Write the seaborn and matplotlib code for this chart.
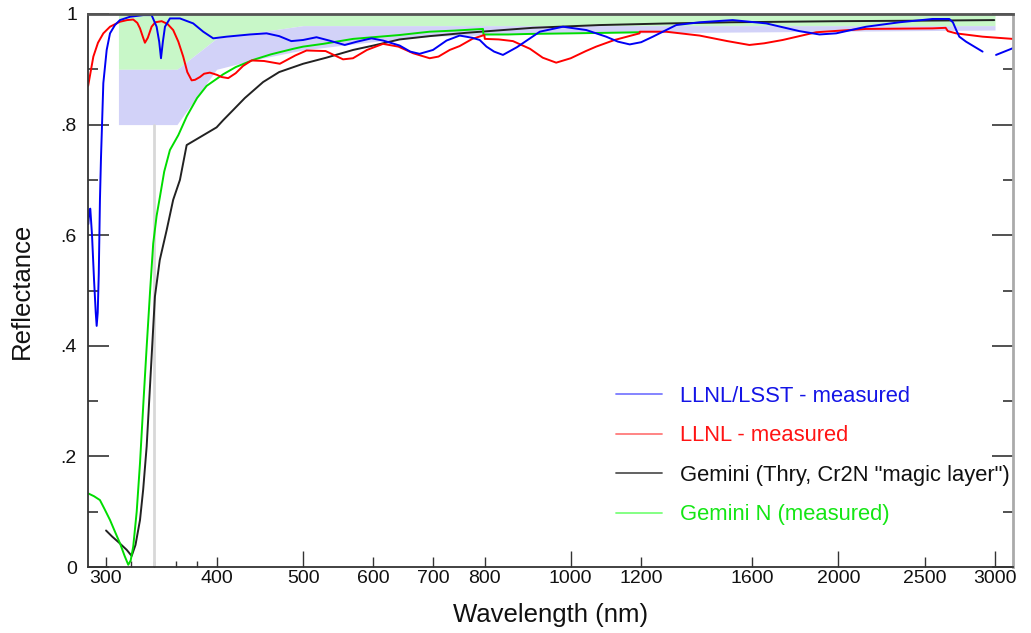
import numpy as np
import pandas as pd
import matplotlib
matplotlib.use("Agg")
import matplotlib.pyplot as plt
from matplotlib.lines import Line2D
from matplotlib.ticker import FixedLocator, NullFormatter
import seaborn as sns

# ---------------- data ----------------
blue_wl = [286.7, 287.5, 288.2, 289.5, 291.0, 292.3, 293.0, 293.8, 294.6, 295.5, 296.3, 297.1,
           298.1, 300.7, 303.3, 307.2, 311.2, 319.4, 330.6, 337.8, 342.2, 344.5, 346.1, 347.8,
           349.7, 354.2, 363.5, 376.2, 386.1, 396.2, 410.2, 435.7, 454.9, 470, 485, 500, 517.7,
           535, 557, 575, 597, 615, 642, 660, 676, 700, 725, 750, 775, 790, 804, 820, 839, 870,
           923, 980, 1041, 1096, 1130, 1165, 1200, 1237, 1314, 1396, 1521, 1659, 1808, 1904,
           1988, 2149, 2342, 2552, 2665, 2690, 2715, 2735, 2783, 2850, 2905]
blue_r = [0.620, 0.645, 0.648, 0.600, 0.520, 0.460, 0.436, 0.460, 0.530, 0.664, 0.740, 0.800,
          0.875, 0.935, 0.965, 0.980, 0.989, 0.995, 0.998, 0.998, 0.977, 0.950, 0.920, 0.950,
          0.977, 0.992, 0.992, 0.983, 0.968, 0.956, 0.959, 0.963, 0.965, 0.960, 0.951, 0.953, 0.958,
          0.952, 0.944, 0.950, 0.956, 0.952, 0.943, 0.932, 0.928, 0.935, 0.952, 0.961, 0.957, 0.953,
          0.941, 0.932, 0.926, 0.940, 0.968, 0.977, 0.971, 0.959, 0.950, 0.945, 0.949, 0.959, 0.980,
          0.985, 0.989, 0.983, 0.969, 0.963, 0.965, 0.977, 0.985, 0.991, 0.991, 0.985, 0.970,
          0.959, 0.950, 0.940, 0.932]
blue_tail_wl = [3008, 3140]
blue_tail_r = [0.926, 0.938]

red_wl = [286.6, 290.5, 294, 298.1, 303.3, 311.2, 317, 322.1, 325.5, 327.8, 330, 332.0, 334.5,
          337.8, 341, 346.7, 352, 357.2, 362, 366.6, 370.5, 374.7, 378, 382.8, 387, 392.8, 400,
          405, 411.9, 420, 428, 437.6, 452, 470.8, 490, 504.5, 530, 554.6, 569, 590, 615, 640,
          665, 694, 710, 731, 750, 775, 799.5, 800.5, 830, 861, 900, 930, 963, 1000, 1040, 1068,
          1120, 1195, 1196, 1280, 1396, 1500, 1588, 1650, 1731, 1888, 2148, 2552, 2640, 2655,
          2712, 2905, 3140]
red_r = [0.870, 0.923, 0.948, 0.965, 0.977, 0.986, 0.989, 0.990, 0.984, 0.974, 0.960, 0.948, 0.957,
         0.977, 0.985, 0.987, 0.982, 0.971, 0.950, 0.923, 0.895, 0.880, 0.881, 0.886, 0.892, 0.894,
         0.890, 0.886, 0.884, 0.893, 0.906, 0.916, 0.915, 0.910, 0.925, 0.934, 0.933, 0.918, 0.920,
         0.935, 0.946, 0.941, 0.929, 0.920, 0.923, 0.935, 0.942, 0.955, 0.962, 0.955, 0.954, 0.951,
         0.937, 0.921, 0.912, 0.920, 0.933, 0.941, 0.953, 0.965, 0.968, 0.968, 0.961, 0.951, 0.944,
         0.947, 0.953, 0.967, 0.973, 0.974, 0.975, 0.969, 0.965, 0.959, 0.955]

black_wl = [300.2, 305, 310, 316.7, 320.8, 324, 327.8, 330.5, 333.5, 337, 340.7, 345, 351.2,
            357.2, 363.5, 369.9, 399.7, 406.6, 417, 430, 450.9, 470, 500.1, 531, 569.2, 600,
            642, 694, 763, 906, 1077, 1291, 1508, 2000, 2500, 2994]
black_r = [0.066, 0.055, 0.045, 0.031, 0.020, 0.040, 0.085, 0.140, 0.218, 0.350, 0.489, 0.555,
           0.609, 0.664, 0.700, 0.763, 0.795, 0.808, 0.826, 0.848, 0.877, 0.895, 0.910, 0.921,
           0.935, 0.943, 0.954, 0.960, 0.966, 0.975, 0.980, 0.983, 0.985, 0.987, 0.988, 0.989]

green_wl = [286.7, 291, 295.5, 299, 303.3, 307, 311.2, 315, 318.0, 320, 322.1, 325, 327.8, 330.5,
            333.5, 336.5, 339.2, 342.2, 345.2, 349, 354.2, 362, 370, 380, 389.5, 406.6, 420,
            439.4, 460, 487.3, 500.1, 526.6, 569.2, 642, 676, 694, 740, 796.7, 797.7, 850, 900,
            1000, 1100, 1195]
green_r = [0.133, 0.128, 0.121, 0.105, 0.085, 0.065, 0.043, 0.020, 0.004, 0.012, 0.037, 0.100,
           0.188, 0.290, 0.398, 0.500, 0.585, 0.635, 0.670, 0.715, 0.754, 0.781, 0.815, 0.848,
           0.870, 0.891, 0.904, 0.917, 0.927, 0.937, 0.941, 0.946, 0.955, 0.962, 0.966, 0.968,
           0.970, 0.973, 0.963, 0.963, 0.964, 0.965, 0.966, 0.967]

band_wl = [310, 360.7, 399.7, 440, 500, 600, 700, 1000, 3000]
band_top = [1.0, 1.0, 1.0, 1.0, 1.0, 1.0, 1.0, 1.0, 1.0]
band_mid = [0.900, 0.900, 0.956, 0.966, 0.979, 0.979, 0.979, 0.979, 0.979]
band_low = [0.800, 0.800, 0.900, 0.917, 0.935, 0.950, 0.960, 0.965, 0.971]

marker_wl = 340
marker_r = [0.0, 0.8]

xtick_vals = [300, 400, 500, 600, 700, 800, 1000, 1200, 1600, 2000, 2500, 3000]
xtick_labels = ["300", "400", "500", "600", "700", "800", "1000", "1200", "1600", "2000", "2500", "3000"]
xtick_long = [500, 1000, 2000, 3000]
xtick_minor = [320, 340, 360, 380]
ytick_vals = [0.0, 0.2, 0.4, 0.6, 0.8, 1.0]
ytick_labels = ["0", ".2", ".4", ".6", ".8", "1"]
ytick_minor = [0.1, 0.3, 0.5, 0.7, 0.9]

series_labels = ["LLNL/LSST - measured", "LLNL - measured",
                 "Gemini (Thry, Cr2N \"magic layer\")", "Gemini N (measured)"]

# ---------------- style ----------------
sns.set_style("ticks")
plt.rcParams['font.family'] = ['Liberation Sans', 'DejaVu Sans']

W, H = 1031, 633
fig = plt.figure(figsize=(W / 100, H / 100), dpi=100)
ax = fig.add_axes([88 / W, 1 - 567 / H, (1013 - 88) / W, (567 - 14) / H])
ax.set_xscale('log')

C_BLUE, C_RED, C_BLACK, C_GREEN = '#0000f5', '#ff0000', '#222222', '#00dd00'

ax.fill_between(band_wl, band_mid, band_top, color='#c8f7c8', lw=0, zorder=1)
ax.fill_between(band_wl, band_low, band_mid, color='#d2d2f8', lw=0, zorder=1)
ax.plot([marker_wl, marker_wl], marker_r, color='#d8d8d8', lw=2, zorder=1.5)

lw = 1.4
sns.lineplot(x=black_wl, y=black_r, ax=ax, color=C_BLACK, lw=lw, sort=False, estimator=None, legend=False, zorder=3)
sns.lineplot(x=green_wl, y=green_r, ax=ax, color=C_GREEN, lw=lw, sort=False, estimator=None, legend=False, zorder=3)
sns.lineplot(x=red_wl, y=red_r, ax=ax, color=C_RED, lw=lw, sort=False, estimator=None, legend=False, zorder=4)
sns.lineplot(x=blue_wl, y=blue_r, ax=ax, color=C_BLUE, lw=lw, sort=False, estimator=None, legend=False, zorder=5)
sns.lineplot(x=blue_tail_wl, y=blue_tail_r, ax=ax, color=C_BLUE, lw=lw, sort=False, estimator=None, legend=False, zorder=5)

ax.set_xlim(286.5, 3143)
ax.set_ylim(0, 1)

# ticks
ax.xaxis.set_major_locator(FixedLocator(xtick_vals))
ax.set_xticklabels(xtick_labels)
ax.xaxis.set_minor_locator(FixedLocator(xtick_minor))
ax.xaxis.set_minor_formatter(NullFormatter())
ax.yaxis.set_major_locator(FixedLocator(ytick_vals))
ax.set_yticklabels(ytick_labels)
ax.yaxis.set_minor_locator(FixedLocator(ytick_minor))

tc = '#333333'
ax.tick_params(axis='x', which='major', direction='in', length=7.2, width=1.0, color=tc,
               labelsize=14, pad=2, top=False, labelcolor='#111111')
ax.tick_params(axis='x', which='minor', direction='in', length=4.3, width=1.0, color=tc, top=False)
ax.tick_params(axis='y', which='major', direction='in', length=15, width=1.2, color=tc,
               left=True, right=True, labelsize=14, pad=8, labelcolor='#111111')
ax.tick_params(axis='y', which='minor', direction='in', length=7.5, width=1.2, color=tc,
               left=True, right=True)
for t, v in zip(ax.xaxis.get_major_ticks(), xtick_vals):
    if v in xtick_long:
        t.tick1line.set_markersize(11.5)

for s in ['left', 'bottom']:
    ax.spines[s].set_color('#333333')
    ax.spines[s].set_linewidth(1.3)
ax.spines['top'].set_color('#555555')
ax.spines['top'].set_linewidth(2.0)
ax.spines['right'].set_color('#aaaaaa')
ax.spines['right'].set_linewidth(2.0)
for s in ax.spines.values():
    s.set_visible(True)
    s.set_zorder(6)

ax.set_xlabel("Wavelength (nm)", fontsize=18.5, labelpad=12, color='#111111')
ax.set_ylabel("Reflectance", fontsize=18.5, labelpad=19, color='#111111')

# legend
handle_cols = ['#7b7bff', '#ff7b7b', '#555555', '#7bff7b']
text_cols = ['#1414e6', '#ff1414', '#111111', '#14e614']
handles = [Line2D([], [], color=c, lw=1.3) for c in handle_cols]
fs = 15.8
leg = ax.legend(handles, series_labels, loc='upper left',
                bbox_to_anchor=(616 / W, 1 - 386 / H), bbox_transform=fig.transFigure,
                frameon=False, fontsize=fs, handlelength=2.1, handletextpad=0.8,
                labelspacing=0.84, borderpad=0, borderaxespad=0)
for txt, c in zip(leg.get_texts(), text_cols):
    txt.set_color(c)

fig.savefig("out.png", dpi=100)
